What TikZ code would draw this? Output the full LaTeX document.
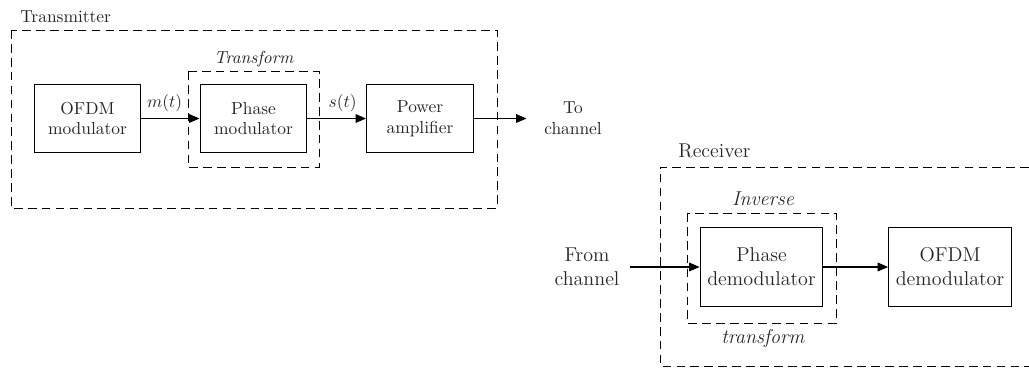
\documentclass[tikz,border=0pt]{standalone}
\usepackage{amsmath}
\usetikzlibrary{positioning}
\usetikzlibrary{arrows.meta,shapes,backgrounds}

\tikzset{
  block/.style={draw, line width=0.6pt, minimum width=2.16cm, minimum height=1.39cm, align=center, inner sep=2pt},
  rxblock/.style={block, minimum width=2.48cm, minimum height=1.58cm},
  group/.style={draw, line width=0.5pt, dash pattern=on 5pt off 3pt},
  sig/.style={-{Triangle[length=6pt,width=5pt]}, line width=0.6pt},
  lbl/.style={inner sep=0pt, align=center}
}

\begin{document}
\begin{tikzpicture}[x=0.0202cm, y=-0.0202cm, every node/.style={text=black!85}]
\useasboundingbox (0,0) rectangle (1029,371);

%zespol nadajnika
\draw[group] (11,30) rectangle (497,208);
\node[lbl, anchor=west] (txlbl) at (20,17) {Transmitter};

%przeksztalcenie
\draw[group] (188,71) rectangle (319,167);
\node[lbl] (tflbl) at (254,59) {\textit{Transform}};

\node[block] (omod) at (87.5,118.5) {OFDM\\modulator};
\node[block] (pmod) at (253.5,118.5) {Phase\\modulator};
\node[block] (amp)  at (420,118.5) {Power\\amplifier};
\node[lbl] (tochan) at (573,118.5) {To\\channel};

\draw[sig] (omod) -- node[above, pos=0.4] {$m(t)$} (pmod);
\draw[sig] (pmod) -- node[above, pos=0.6] {$s(t)$} (amp);
\draw[sig, shorten >=10pt] (amp) -- (tochan);

%zespol odbiornika
\begin{scope}[every node/.append style={font=\fontsize{11.5}{13.8}\selectfont}]
\draw[group] (1029,167) -- (660,167) -- (660,366) -- (1029,366);
\node[lbl, anchor=west] (rxlbl) at (678,151) {Receiver};

%przeksztalcenie odwrotne
\draw[group] (687,213) rectangle (836,323);
\node[lbl] (invlbl) at (763,199) {\textit{Inverse}};
\node[lbl] (trlbl)  at (763,338) {\textit{transform}};

\node[lbl] (fromchan) at (587,267) {From\\channel};
\node[rxblock] (pdemod) at (761.5,267) {Phase\\demodulator};
\node[rxblock] (odemod) at (950,267) {OFDM\\demodulator};

\draw[sig, shorten <=6pt] (fromchan) -- (pdemod);
\draw[sig] (pdemod) -- (odemod);
\end{scope}
%koniec
\end{tikzpicture}
\end{document}
